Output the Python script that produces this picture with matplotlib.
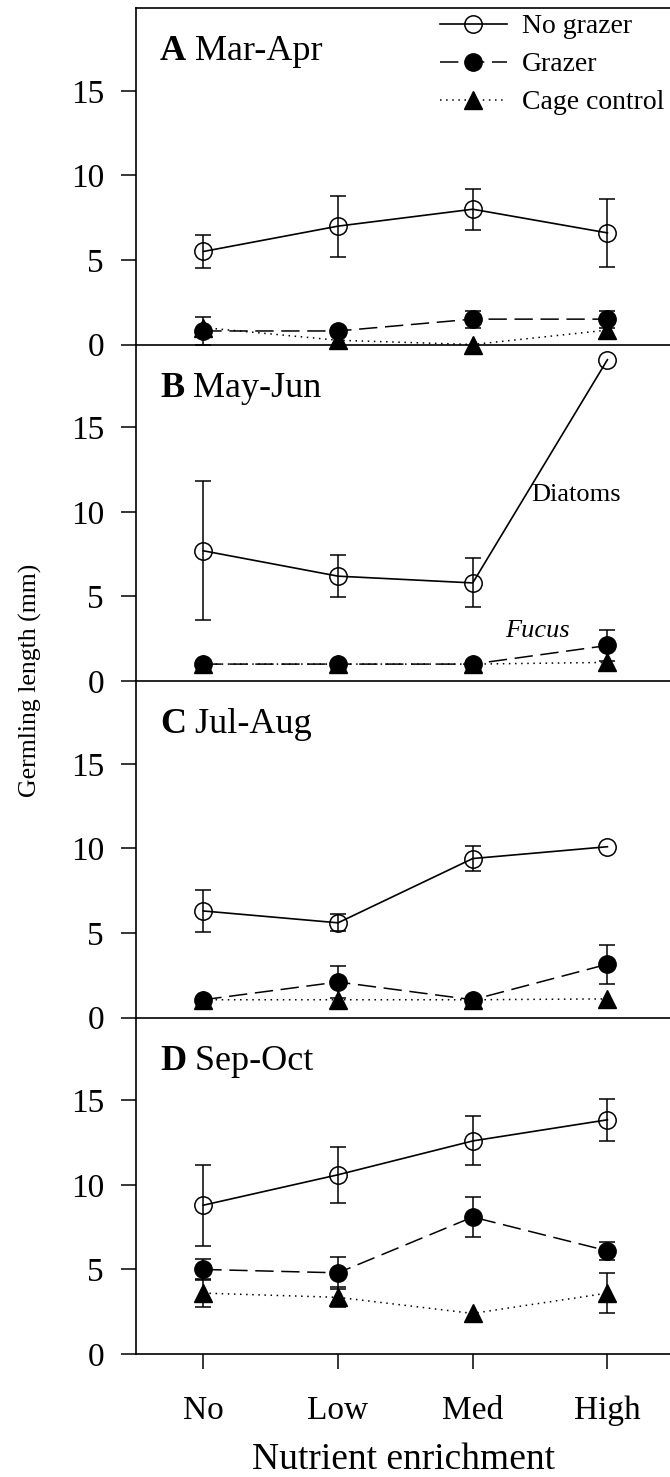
import numpy as np
import matplotlib
matplotlib.use("Agg")
import matplotlib.pyplot as plt

plt.rcParams['font.family'] = ['Liberation Serif', 'DejaVu Serif']

levels = ["No", "Low", "Med", "High"]
panel_letters = ["A", "B", "C", "D"]
panel_months = ["Mar-Apr", "May-Jun", "Jul-Aug", "Sep-Oct"]

# means and error bars (0 = no error bar drawn)
no_grazer = [[5.5, 7.0, 8.0, 6.6],
             [7.7, 6.2, 5.8, 19.0],
             [6.3, 5.6, 9.4, 10.1],
             [8.8, 10.6, 12.6, 13.85]]
no_grazer_err = [[1.0, 1.8, 1.2, 2.0],
                 [4.1, 1.25, 1.45, 0],
                 [1.25, 0.5, 0.75, 0],
                 [2.4, 1.65, 1.45, 1.25]]
grazer = [[0.8, 0.8, 1.5, 1.5],
          [1.0, 1.0, 1.0, 2.1],
          [1.05, 2.1, 1.05, 3.15],
          [5.0, 4.8, 8.1, 6.1]]
grazer_err = [[0.85, 0, 0.5, 0.5],
              [0, 0, 0, 0.9],
              [0, 0.95, 0, 1.15],
              [0.6, 0.95, 1.2, 0.55]]
cage = [[1.0, 0.25, 0.0, 0.85],
        [1.0, 1.0, 1.0, 1.1],
        [1.05, 1.05, 1.05, 1.1],
        [3.6, 3.35, 2.4, 3.6]]
cage_err = [[0, 0, 0, 0],
            [0, 0, 0, 0],
            [0, 0, 0, 0],
            [0.85, 0.6, 0, 1.2]]

W, H = 670, 1477
fig = plt.figure(figsize=(W / 100, H / 100), dpi=100)

x = np.arange(len(levels))
left = 136 / W
bottom_px = 1354
panel_h = 336.5
ms = 12.5

def draw_err(ax, vals, errs):
    v = np.array(vals)
    e = np.array(errs)
    keep = e > 0
    if keep.any():
        ax.errorbar(x[keep], v[keep], yerr=e[keep], fmt='none', ecolor='black',
                    elinewidth=1.1, capsize=6, capthick=1.1, zorder=2)

axes = []
for i in range(4):
    b = bottom_px - (3 - i) * panel_h
    ax = fig.add_axes([left, 1 - b / H, 1 - left, panel_h / H])
    axes.append(ax)

    l3, = ax.plot(x, cage[i], color='black', linestyle=(0, (1, 3)), lw=1.1,
                  marker='^', ms=ms, mfc='black', mec='black', clip_on=False, zorder=3)
    draw_err(ax, cage[i], cage_err[i])
    l2, = ax.plot(x, grazer[i], color='black', linestyle=(0, (12, 5)), lw=1.1,
                  marker='o', ms=ms, mfc='black', mec='black', clip_on=False, zorder=4)
    draw_err(ax, grazer[i], grazer_err[i])
    l1, = ax.plot(x, no_grazer[i], color='black', linestyle='-', lw=1.2,
                  marker='o', ms=ms, mfc='none', mec='black', mew=1.1,
                  clip_on=False, zorder=5)
    draw_err(ax, no_grazer[i], no_grazer_err[i])

    ax.set_xlim(-0.5, (W - 204) / 134.5)
    ax.set_ylim(0, 19.9)
    ax.set_yticks([0, 5, 10, 15])
    ax.tick_params(axis='y', direction='out', length=11, width=1.1, pad=12,
                   labelsize=24)
    ax.spines['right'].set_visible(False)
    if i > 0:
        ax.spines['top'].set_visible(False)
    for s in ['left', 'bottom', 'top']:
        ax.spines[s].set_linewidth(1.2)
    ax.set_xticks(x)
    if i < 3:
        ax.tick_params(axis='x', length=0, labelbottom=False)
    else:
        ax.set_xticklabels(levels)
        ax.tick_params(axis='x', direction='out', length=11, width=1.1, pad=19,
                       labelsize=24)
        ax.set_xlabel("Nutrient enrichment", fontsize=27, labelpad=12)

    t = ax.text(0.045, 0.845, panel_letters[i], transform=ax.transAxes,
                fontsize=26, fontweight='bold', ha='left', va='baseline')
    ax.annotate(" " + panel_months[i], xy=(1, 0), xycoords=t, fontsize=26,
                ha='left', va='bottom')
    ax.patch.set_alpha(0)

    if i == 0:
        handles = [l1, l2, l3]

axes[1].text(2.77, 11.0, "Diatoms", fontsize=19, ha='center', va='center')
axes[1].text(2.48, 2.96, "Fucus", fontsize=19, style='italic', ha='center', va='center')

axes[0].legend(handles, ["No grazer", "Grazer", "Cage control"],
               loc='upper left', bbox_to_anchor=(440 / W, 1 - 14 / H),
               bbox_transform=fig.transFigure, frameon=False, borderpad=0,
               borderaxespad=0, handlelength=2.4, handletextpad=0.55,
               labelspacing=0.45, fontsize=20)

fig.text(30 / W, 1 - 680 / H, "Germling length (mm)", rotation=90,
         ha='center', va='center', fontsize=18.5)

fig.savefig("out.png", dpi=100)
